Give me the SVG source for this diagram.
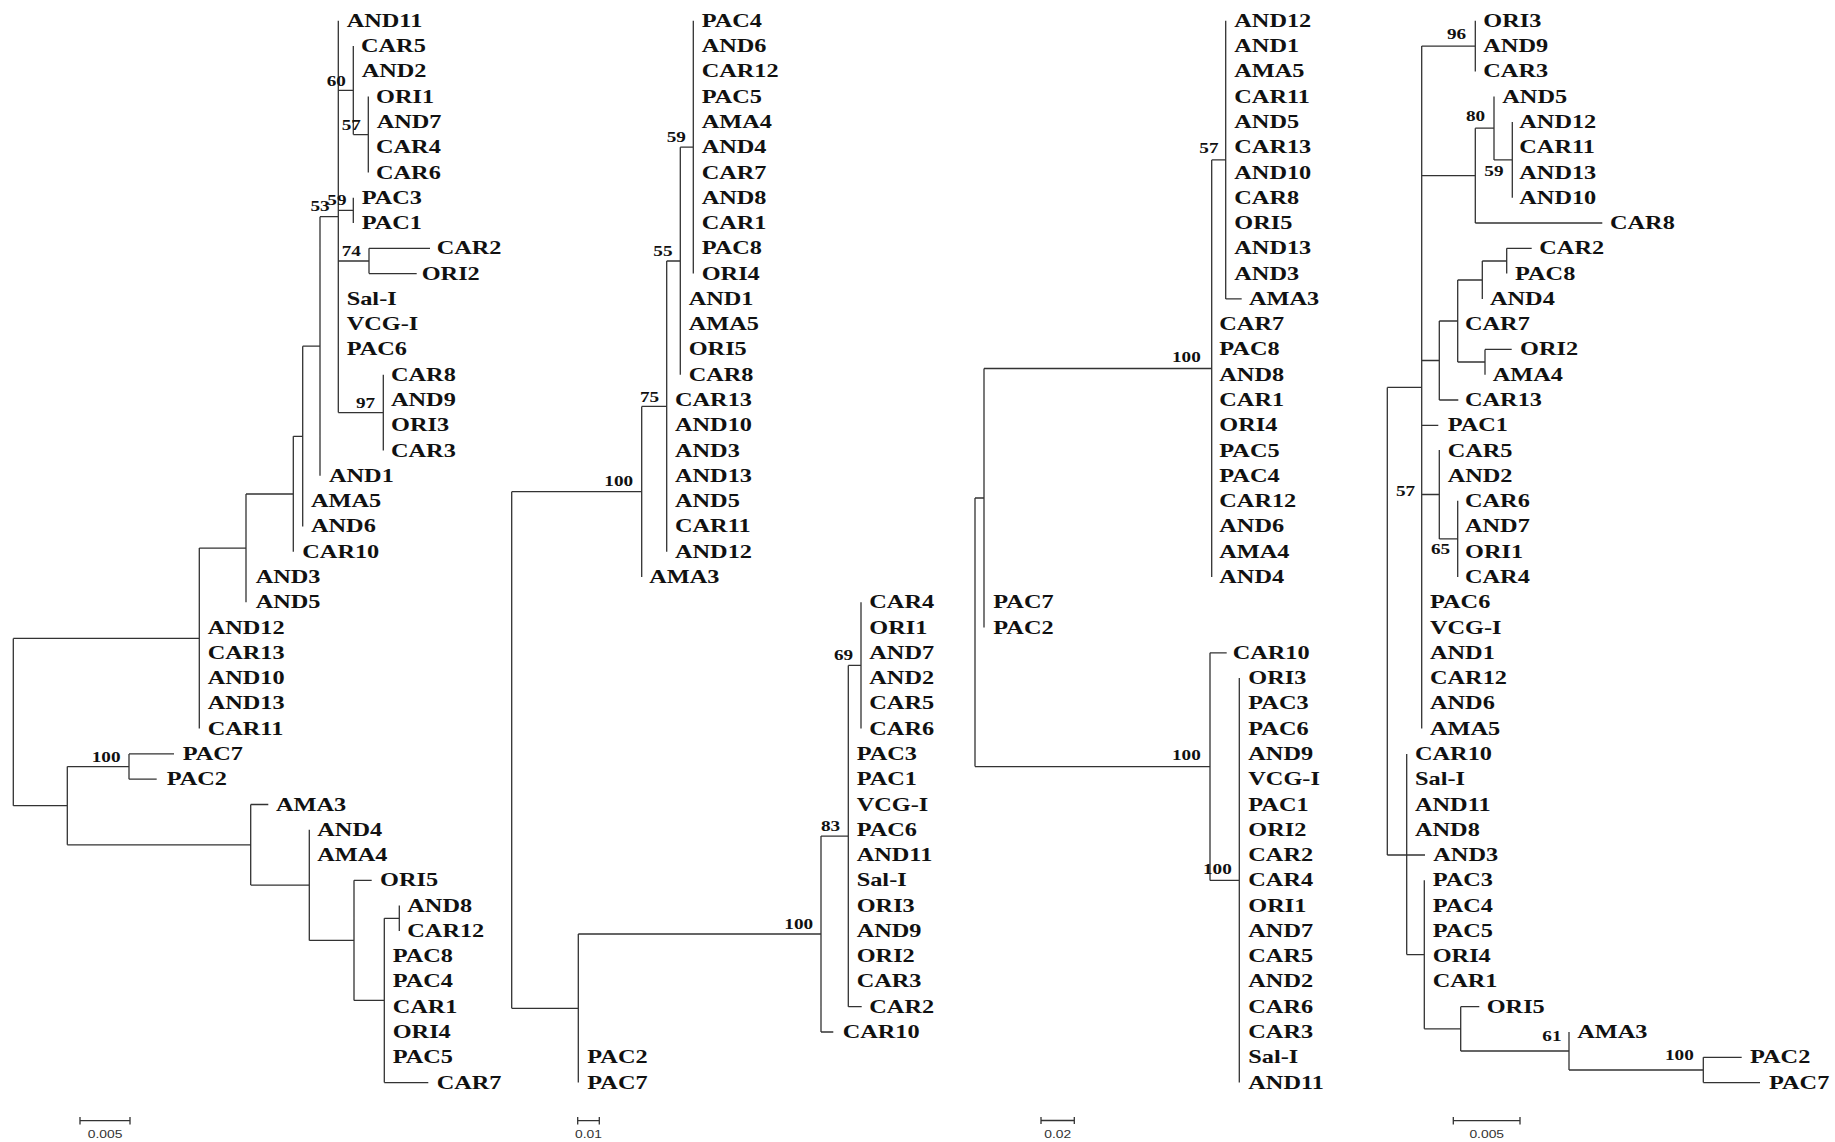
<svg xmlns="http://www.w3.org/2000/svg" width="1835" height="1142" viewBox="0 0 1835 1142">
<style>
.lbl{font-family:"Liberation Serif","Times New Roman",serif;font-weight:bold;font-size:19px;fill:#111}
.bs{font-family:"Liberation Serif","Times New Roman",serif;font-weight:bold;font-size:15px;fill:#111}
.sc{font-family:"Liberation Sans",Arial,sans-serif;font-size:10.5px;fill:#333;text-anchor:middle}
.br{fill:none;stroke:#333;stroke-width:1.3}
</style>
<rect width="1835" height="1142" fill="#fff"/>
<g id="connectors" class="br">
<path id="tree1-branches" d="M13.3 638.4V805.7M13.3 638.4H199.3M13.3 805.7H67.3M199.3 548.1V728.6M199.3 548.1H246M246 494V602.2M246 494H293.3M293.3 436.3V551.7M293.3 436.3H302.7M302.7 346.2V526.4M302.7 346.2H320M320 216.7V475.8M320 216.7H338.3M338.3 20.8V412.6M338.3 90.3H353.3M353.3 46.1V134.6M353.3 134.6H368.3M368.3 96.6V172.5M338.3 210.4H353.3M353.3 197.8V223M338.3 261H369M369 248.3V273.6M369 248.3H430M369 273.6H416.7M338.3 412.6H383.3M383.3 374.7V450.6M67.3 766.6V844.8M67.3 766.6H129M67.3 844.8H250.7M129 753.9V779.2M129 753.9H174M129 779.2H156.7M250.7 804.5V885.1M250.7 804.5H268.3M250.7 885.1H309.3M309.3 829.8V940.4M309.3 940.4H354M354 880.3V1000.4M354 880.3H371.7M354 1000.4H384.3M384.3 918.3V1082.6M384.3 918.3H399.3M384.3 1082.6H428.3M399.3 905.6V930.9"/>
<path id="tree2-branches" d="M511.7 491.7V1008.3M511.7 491.7H641.7M511.7 1008.3H578.3M641.7 406.4V577M641.7 406.4H666.7M666.7 261V551.7M666.7 261H680.3M680.3 147.2V374.7M680.3 147.2H693.3M693.3 20.8V273.6M578.3 934V1082.6M578.3 934H821M821 836.1V1032M821 836.1H848.3M821 1032H833.3M848.3 665.4V1006.7M848.3 665.4H861M848.3 1006.7H861.7M861 602.2V728.6"/>
<path id="tree3-branches" d="M975 498V766.6M975 498H984M975 766.6H1210M984 368.5V627.5M984 368.5H1211.7M1211.7 159.9V577M1211.7 159.9H1225.7M1225.7 20.8V298.9M1225.7 298.9H1241.7M1210 652.8V880.4M1210 652.8H1226.7M1210 880.4H1239.3M1239.3 678.1V1082.6"/>
<path id="tree4-branches" d="M1387.3 387.4V855M1387.3 387.4H1421.7M1387.3 855H1425M1421.7 46.1V728.6M1421.7 46.1H1475.3M1475.3 20.8V71.4M1421.7 175.6H1475.3M1475.3 128.2V223M1475.3 223H1602.3M1475.3 128.2H1494M1494 96.6V159.9M1494 159.9H1512.3M1512.3 121.9V197.8M1421.7 360.5H1439.3M1439.3 321V400M1439.3 400H1458.3M1439.3 321H1457.7M1457.7 280V362M1457.7 280H1482.3M1482.3 261V298.9M1482.3 261H1506.7M1506.7 248.3V273.6M1506.7 248.3H1531.7M1457.7 362H1485M1485 349.4V374.7M1485 349.4H1511.7M1421.7 425.3H1438.3M1421.7 494.5H1439.3M1439.3 450.1V538.9M1439.3 538.9H1457.7M1457.7 500.7V577M1406.7 753.9V954.6M1406.7 954.6H1424.3M1424.3 880.3V1028.8M1424.3 1028.8H1460.7M1460.7 1006.7V1051M1460.7 1006.7H1479.3M1460.7 1051H1569M1569 1032V1070M1569 1070H1703.3M1703.3 1057.3V1082.6M1703.3 1057.3H1741.7M1703.3 1082.6H1760"/>
<path id="scale-bars" d="M80 1120.7H130M80 1117V1124.4M130 1117V1124.4M577.7 1120.7H599.3M577.7 1117V1124.4M599.3 1117V1124.4M1041 1120.5H1074.3M1041 1117V1124M1074.3 1117V1124M1453.3 1120.7H1520M1453.3 1117V1124.4M1520 1117V1124.4"/>
</g>
<g id="tree1">
<g id="t1-AND11"><text class="lbl" transform="translate(346.7 26.8) scale(1.28 1)">AND11</text></g>
<g id="t1-CAR5"><text class="lbl" transform="translate(361 52.1) scale(1.28 1)">CAR5</text></g>
<g id="t1-AND2"><text class="lbl" transform="translate(361.7 77.4) scale(1.28 1)">AND2</text></g>
<g id="t1-ORI1"><text class="lbl" transform="translate(376 102.6) scale(1.28 1)">ORI1</text></g>
<g id="t1-AND7"><text class="lbl" transform="translate(376.7 127.9) scale(1.28 1)">AND7</text></g>
<g id="t1-CAR4"><text class="lbl" transform="translate(376 153.2) scale(1.28 1)">CAR4</text></g>
<g id="t1-CAR6"><text class="lbl" transform="translate(376 178.5) scale(1.28 1)">CAR6</text></g>
<g id="t1-PAC3"><text class="lbl" transform="translate(361.7 203.8) scale(1.28 1)">PAC3</text></g>
<g id="t1-PAC1"><text class="lbl" transform="translate(361.7 229) scale(1.28 1)">PAC1</text></g>
<g id="t1-CAR2"><text class="lbl" transform="translate(436.7 254.3) scale(1.28 1)">CAR2</text></g>
<g id="t1-ORI2"><text class="lbl" transform="translate(421.7 279.6) scale(1.28 1)">ORI2</text></g>
<g id="t1-Sal-I"><text class="lbl" transform="translate(346.7 304.9) scale(1.28 1)">Sal-I</text></g>
<g id="t1-VCG-I"><text class="lbl" transform="translate(346.7 330.2) scale(1.28 1)">VCG-I</text></g>
<g id="t1-PAC6"><text class="lbl" transform="translate(346.7 355.4) scale(1.28 1)">PAC6</text></g>
<g id="t1-CAR8"><text class="lbl" transform="translate(391 380.7) scale(1.28 1)">CAR8</text></g>
<g id="t1-AND9"><text class="lbl" transform="translate(391 406) scale(1.28 1)">AND9</text></g>
<g id="t1-ORI3"><text class="lbl" transform="translate(391 431.3) scale(1.28 1)">ORI3</text></g>
<g id="t1-CAR3"><text class="lbl" transform="translate(391 456.6) scale(1.28 1)">CAR3</text></g>
<g id="t1-AND1"><text class="lbl" transform="translate(329 481.8) scale(1.28 1)">AND1</text></g>
<g id="t1-AMA5"><text class="lbl" transform="translate(311 507.1) scale(1.28 1)">AMA5</text></g>
<g id="t1-AND6"><text class="lbl" transform="translate(311 532.4) scale(1.28 1)">AND6</text></g>
<g id="t1-CAR10"><text class="lbl" transform="translate(302.3 557.7) scale(1.28 1)">CAR10</text></g>
<g id="t1-AND3"><text class="lbl" transform="translate(255.7 583) scale(1.28 1)">AND3</text></g>
<g id="t1-AND5"><text class="lbl" transform="translate(255.7 608.2) scale(1.28 1)">AND5</text></g>
<g id="t1-AND12"><text class="lbl" transform="translate(207.7 633.5) scale(1.28 1)">AND12</text></g>
<g id="t1-CAR13"><text class="lbl" transform="translate(207.7 658.8) scale(1.28 1)">CAR13</text></g>
<g id="t1-AND10"><text class="lbl" transform="translate(207.7 684.1) scale(1.28 1)">AND10</text></g>
<g id="t1-AND13"><text class="lbl" transform="translate(207.7 709.4) scale(1.28 1)">AND13</text></g>
<g id="t1-CAR11"><text class="lbl" transform="translate(207.7 734.6) scale(1.28 1)">CAR11</text></g>
<g id="t1-PAC7"><text class="lbl" transform="translate(182.7 759.9) scale(1.28 1)">PAC7</text></g>
<g id="t1-PAC2"><text class="lbl" transform="translate(166.7 785.2) scale(1.28 1)">PAC2</text></g>
<g id="t1-AMA3"><text class="lbl" transform="translate(276 810.5) scale(1.28 1)">AMA3</text></g>
<g id="t1-AND4"><text class="lbl" transform="translate(317.3 835.8) scale(1.28 1)">AND4</text></g>
<g id="t1-AMA4"><text class="lbl" transform="translate(317.3 861) scale(1.28 1)">AMA4</text></g>
<g id="t1-ORI5"><text class="lbl" transform="translate(380 886.3) scale(1.28 1)">ORI5</text></g>
<g id="t1-AND8"><text class="lbl" transform="translate(407.3 911.6) scale(1.28 1)">AND8</text></g>
<g id="t1-CAR12"><text class="lbl" transform="translate(407.3 936.9) scale(1.28 1)">CAR12</text></g>
<g id="t1-PAC8"><text class="lbl" transform="translate(392.7 962.2) scale(1.28 1)">PAC8</text></g>
<g id="t1-PAC4"><text class="lbl" transform="translate(392.7 987.4) scale(1.28 1)">PAC4</text></g>
<g id="t1-CAR1"><text class="lbl" transform="translate(392.7 1012.7) scale(1.28 1)">CAR1</text></g>
<g id="t1-ORI4"><text class="lbl" transform="translate(392.7 1038) scale(1.28 1)">ORI4</text></g>
<g id="t1-PAC5"><text class="lbl" transform="translate(392.7 1063.3) scale(1.28 1)">PAC5</text></g>
<g id="t1-CAR7"><text class="lbl" transform="translate(436.7 1088.6) scale(1.28 1)">CAR7</text></g>
<g id="t1-support">
<text class="bs" transform="translate(326.7 86) scale(1.28 1)">60</text>
<text class="bs" transform="translate(341.7 130.4) scale(1.28 1)">57</text>
<text class="bs" transform="translate(310.5 211) scale(1.28 1)">53</text>
<text class="bs" transform="translate(327.3 205) scale(1.28 1)">59</text>
<text class="bs" transform="translate(341.7 256.4) scale(1.28 1)">74</text>
<text class="bs" transform="translate(356 408) scale(1.28 1)">97</text>
<text class="bs" transform="translate(91.7 762) scale(1.28 1)">100</text>
</g>
<g id="t1-scale"><text class="sc" transform="translate(105 1138) scale(1.32 1)">0.005</text></g>
</g>
<g id="tree2">
<g id="t2-PAC4"><text class="lbl" transform="translate(701.7 26.8) scale(1.28 1)">PAC4</text></g>
<g id="t2-AND6"><text class="lbl" transform="translate(701.7 52.1) scale(1.28 1)">AND6</text></g>
<g id="t2-CAR12"><text class="lbl" transform="translate(701.7 77.4) scale(1.28 1)">CAR12</text></g>
<g id="t2-PAC5"><text class="lbl" transform="translate(701.7 102.6) scale(1.28 1)">PAC5</text></g>
<g id="t2-AMA4"><text class="lbl" transform="translate(701.7 127.9) scale(1.28 1)">AMA4</text></g>
<g id="t2-AND4"><text class="lbl" transform="translate(701.7 153.2) scale(1.28 1)">AND4</text></g>
<g id="t2-CAR7"><text class="lbl" transform="translate(701.7 178.5) scale(1.28 1)">CAR7</text></g>
<g id="t2-AND8"><text class="lbl" transform="translate(701.7 203.8) scale(1.28 1)">AND8</text></g>
<g id="t2-CAR1"><text class="lbl" transform="translate(701.7 229) scale(1.28 1)">CAR1</text></g>
<g id="t2-PAC8"><text class="lbl" transform="translate(701.7 254.3) scale(1.28 1)">PAC8</text></g>
<g id="t2-ORI4"><text class="lbl" transform="translate(701.7 279.6) scale(1.28 1)">ORI4</text></g>
<g id="t2-AND1"><text class="lbl" transform="translate(688.7 304.9) scale(1.28 1)">AND1</text></g>
<g id="t2-AMA5"><text class="lbl" transform="translate(688.7 330.2) scale(1.28 1)">AMA5</text></g>
<g id="t2-ORI5"><text class="lbl" transform="translate(688.7 355.4) scale(1.28 1)">ORI5</text></g>
<g id="t2-CAR8"><text class="lbl" transform="translate(688.7 380.7) scale(1.28 1)">CAR8</text></g>
<g id="t2-CAR13"><text class="lbl" transform="translate(675 406) scale(1.28 1)">CAR13</text></g>
<g id="t2-AND10"><text class="lbl" transform="translate(675 431.3) scale(1.28 1)">AND10</text></g>
<g id="t2-AND3"><text class="lbl" transform="translate(675 456.6) scale(1.28 1)">AND3</text></g>
<g id="t2-AND13"><text class="lbl" transform="translate(675 481.8) scale(1.28 1)">AND13</text></g>
<g id="t2-AND5"><text class="lbl" transform="translate(675 507.1) scale(1.28 1)">AND5</text></g>
<g id="t2-CAR11"><text class="lbl" transform="translate(675 532.4) scale(1.28 1)">CAR11</text></g>
<g id="t2-AND12"><text class="lbl" transform="translate(675 557.7) scale(1.28 1)">AND12</text></g>
<g id="t2-AMA3"><text class="lbl" transform="translate(649.3 583) scale(1.28 1)">AMA3</text></g>
<g id="t2-CAR4"><text class="lbl" transform="translate(869.3 608.2) scale(1.28 1)">CAR4</text></g>
<g id="t2-ORI1"><text class="lbl" transform="translate(869.3 633.5) scale(1.28 1)">ORI1</text></g>
<g id="t2-AND7"><text class="lbl" transform="translate(869.3 658.8) scale(1.28 1)">AND7</text></g>
<g id="t2-AND2"><text class="lbl" transform="translate(869.3 684.1) scale(1.28 1)">AND2</text></g>
<g id="t2-CAR5"><text class="lbl" transform="translate(869.3 709.4) scale(1.28 1)">CAR5</text></g>
<g id="t2-CAR6"><text class="lbl" transform="translate(869.3 734.6) scale(1.28 1)">CAR6</text></g>
<g id="t2-PAC3"><text class="lbl" transform="translate(856.7 759.9) scale(1.28 1)">PAC3</text></g>
<g id="t2-PAC1"><text class="lbl" transform="translate(856.7 785.2) scale(1.28 1)">PAC1</text></g>
<g id="t2-VCG-I"><text class="lbl" transform="translate(856.7 810.5) scale(1.28 1)">VCG-I</text></g>
<g id="t2-PAC6"><text class="lbl" transform="translate(856.7 835.8) scale(1.28 1)">PAC6</text></g>
<g id="t2-AND11"><text class="lbl" transform="translate(856.7 861) scale(1.28 1)">AND11</text></g>
<g id="t2-Sal-I"><text class="lbl" transform="translate(856.7 886.3) scale(1.28 1)">Sal-I</text></g>
<g id="t2-ORI3"><text class="lbl" transform="translate(856.7 911.6) scale(1.28 1)">ORI3</text></g>
<g id="t2-AND9"><text class="lbl" transform="translate(856.7 936.9) scale(1.28 1)">AND9</text></g>
<g id="t2-ORI2"><text class="lbl" transform="translate(856.7 962.2) scale(1.28 1)">ORI2</text></g>
<g id="t2-CAR3"><text class="lbl" transform="translate(856.7 987.4) scale(1.28 1)">CAR3</text></g>
<g id="t2-CAR2"><text class="lbl" transform="translate(869.3 1012.7) scale(1.28 1)">CAR2</text></g>
<g id="t2-CAR10"><text class="lbl" transform="translate(842.7 1038) scale(1.28 1)">CAR10</text></g>
<g id="t2-PAC2"><text class="lbl" transform="translate(587.3 1063.3) scale(1.28 1)">PAC2</text></g>
<g id="t2-PAC7"><text class="lbl" transform="translate(587.3 1088.6) scale(1.28 1)">PAC7</text></g>
<g id="t2-support">
<text class="bs" transform="translate(666.7 142) scale(1.28 1)">59</text>
<text class="bs" transform="translate(653.3 256) scale(1.28 1)">55</text>
<text class="bs" transform="translate(640 401.8) scale(1.28 1)">75</text>
<text class="bs" transform="translate(604.3 486) scale(1.28 1)">100</text>
<text class="bs" transform="translate(834 660.2) scale(1.28 1)">69</text>
<text class="bs" transform="translate(821 831) scale(1.28 1)">83</text>
<text class="bs" transform="translate(784.3 928.5) scale(1.28 1)">100</text>
</g>
<g id="t2-scale"><text class="sc" transform="translate(588.5 1138) scale(1.32 1)">0.01</text></g>
</g>
<g id="tree3">
<g id="t3-AND12"><text class="lbl" transform="translate(1234.3 26.8) scale(1.28 1)">AND12</text></g>
<g id="t3-AND1"><text class="lbl" transform="translate(1234.3 52.1) scale(1.28 1)">AND1</text></g>
<g id="t3-AMA5"><text class="lbl" transform="translate(1234.3 77.4) scale(1.28 1)">AMA5</text></g>
<g id="t3-CAR11"><text class="lbl" transform="translate(1234.3 102.6) scale(1.28 1)">CAR11</text></g>
<g id="t3-AND5"><text class="lbl" transform="translate(1234.3 127.9) scale(1.28 1)">AND5</text></g>
<g id="t3-CAR13"><text class="lbl" transform="translate(1234.3 153.2) scale(1.28 1)">CAR13</text></g>
<g id="t3-AND10"><text class="lbl" transform="translate(1234.3 178.5) scale(1.28 1)">AND10</text></g>
<g id="t3-CAR8"><text class="lbl" transform="translate(1234.3 203.8) scale(1.28 1)">CAR8</text></g>
<g id="t3-ORI5"><text class="lbl" transform="translate(1234.3 229) scale(1.28 1)">ORI5</text></g>
<g id="t3-AND13"><text class="lbl" transform="translate(1234.3 254.3) scale(1.28 1)">AND13</text></g>
<g id="t3-AND3"><text class="lbl" transform="translate(1234.3 279.6) scale(1.28 1)">AND3</text></g>
<g id="t3-AMA3"><text class="lbl" transform="translate(1249 304.9) scale(1.28 1)">AMA3</text></g>
<g id="t3-CAR7"><text class="lbl" transform="translate(1219.3 330.2) scale(1.28 1)">CAR7</text></g>
<g id="t3-PAC8"><text class="lbl" transform="translate(1219.3 355.4) scale(1.28 1)">PAC8</text></g>
<g id="t3-AND8"><text class="lbl" transform="translate(1219.3 380.7) scale(1.28 1)">AND8</text></g>
<g id="t3-CAR1"><text class="lbl" transform="translate(1219.3 406) scale(1.28 1)">CAR1</text></g>
<g id="t3-ORI4"><text class="lbl" transform="translate(1219.3 431.3) scale(1.28 1)">ORI4</text></g>
<g id="t3-PAC5"><text class="lbl" transform="translate(1219.3 456.6) scale(1.28 1)">PAC5</text></g>
<g id="t3-PAC4"><text class="lbl" transform="translate(1219.3 481.8) scale(1.28 1)">PAC4</text></g>
<g id="t3-CAR12"><text class="lbl" transform="translate(1219.3 507.1) scale(1.28 1)">CAR12</text></g>
<g id="t3-AND6"><text class="lbl" transform="translate(1219.3 532.4) scale(1.28 1)">AND6</text></g>
<g id="t3-AMA4"><text class="lbl" transform="translate(1219.3 557.7) scale(1.28 1)">AMA4</text></g>
<g id="t3-AND4"><text class="lbl" transform="translate(1219.3 583) scale(1.28 1)">AND4</text></g>
<g id="t3-PAC7"><text class="lbl" transform="translate(993.3 608.2) scale(1.28 1)">PAC7</text></g>
<g id="t3-PAC2"><text class="lbl" transform="translate(993.3 633.5) scale(1.28 1)">PAC2</text></g>
<g id="t3-CAR10"><text class="lbl" transform="translate(1232.7 658.8) scale(1.28 1)">CAR10</text></g>
<g id="t3-ORI3"><text class="lbl" transform="translate(1248.3 684.1) scale(1.28 1)">ORI3</text></g>
<g id="t3-PAC3"><text class="lbl" transform="translate(1248.3 709.4) scale(1.28 1)">PAC3</text></g>
<g id="t3-PAC6"><text class="lbl" transform="translate(1248.3 734.6) scale(1.28 1)">PAC6</text></g>
<g id="t3-AND9"><text class="lbl" transform="translate(1248.3 759.9) scale(1.28 1)">AND9</text></g>
<g id="t3-VCG-I"><text class="lbl" transform="translate(1248.3 785.2) scale(1.28 1)">VCG-I</text></g>
<g id="t3-PAC1"><text class="lbl" transform="translate(1248.3 810.5) scale(1.28 1)">PAC1</text></g>
<g id="t3-ORI2"><text class="lbl" transform="translate(1248.3 835.8) scale(1.28 1)">ORI2</text></g>
<g id="t3-CAR2"><text class="lbl" transform="translate(1248.3 861) scale(1.28 1)">CAR2</text></g>
<g id="t3-CAR4"><text class="lbl" transform="translate(1248.3 886.3) scale(1.28 1)">CAR4</text></g>
<g id="t3-ORI1"><text class="lbl" transform="translate(1248.3 911.6) scale(1.28 1)">ORI1</text></g>
<g id="t3-AND7"><text class="lbl" transform="translate(1248.3 936.9) scale(1.28 1)">AND7</text></g>
<g id="t3-CAR5"><text class="lbl" transform="translate(1248.3 962.2) scale(1.28 1)">CAR5</text></g>
<g id="t3-AND2"><text class="lbl" transform="translate(1248.3 987.4) scale(1.28 1)">AND2</text></g>
<g id="t3-CAR6"><text class="lbl" transform="translate(1248.3 1012.7) scale(1.28 1)">CAR6</text></g>
<g id="t3-CAR3"><text class="lbl" transform="translate(1248.3 1038) scale(1.28 1)">CAR3</text></g>
<g id="t3-Sal-I"><text class="lbl" transform="translate(1248.3 1063.3) scale(1.28 1)">Sal-I</text></g>
<g id="t3-AND11"><text class="lbl" transform="translate(1248.3 1088.6) scale(1.28 1)">AND11</text></g>
<g id="t3-support">
<text class="bs" transform="translate(1199.3 153) scale(1.28 1)">57</text>
<text class="bs" transform="translate(1172 361.6) scale(1.28 1)">100</text>
<text class="bs" transform="translate(1172 760.4) scale(1.28 1)">100</text>
<text class="bs" transform="translate(1203 873.7) scale(1.28 1)">100</text>
</g>
<g id="t3-scale"><text class="sc" transform="translate(1057.8 1138) scale(1.32 1)">0.02</text></g>
</g>
<g id="tree4">
<g id="t4-ORI3"><text class="lbl" transform="translate(1483.3 26.8) scale(1.28 1)">ORI3</text></g>
<g id="t4-AND9"><text class="lbl" transform="translate(1483.3 52.1) scale(1.28 1)">AND9</text></g>
<g id="t4-CAR3"><text class="lbl" transform="translate(1483.3 77.4) scale(1.28 1)">CAR3</text></g>
<g id="t4-AND5"><text class="lbl" transform="translate(1502.3 102.6) scale(1.28 1)">AND5</text></g>
<g id="t4-AND12"><text class="lbl" transform="translate(1519.3 127.9) scale(1.28 1)">AND12</text></g>
<g id="t4-CAR11"><text class="lbl" transform="translate(1519.3 153.2) scale(1.28 1)">CAR11</text></g>
<g id="t4-AND13"><text class="lbl" transform="translate(1519.3 178.5) scale(1.28 1)">AND13</text></g>
<g id="t4-AND10"><text class="lbl" transform="translate(1519.3 203.8) scale(1.28 1)">AND10</text></g>
<g id="t4-CAR8"><text class="lbl" transform="translate(1610 229) scale(1.28 1)">CAR8</text></g>
<g id="t4-CAR2"><text class="lbl" transform="translate(1539.3 254.3) scale(1.28 1)">CAR2</text></g>
<g id="t4-PAC8"><text class="lbl" transform="translate(1515 279.6) scale(1.28 1)">PAC8</text></g>
<g id="t4-AND4"><text class="lbl" transform="translate(1490 304.9) scale(1.28 1)">AND4</text></g>
<g id="t4-CAR7"><text class="lbl" transform="translate(1465 330.2) scale(1.28 1)">CAR7</text></g>
<g id="t4-ORI2"><text class="lbl" transform="translate(1520 355.4) scale(1.28 1)">ORI2</text></g>
<g id="t4-AMA4"><text class="lbl" transform="translate(1492.7 380.7) scale(1.28 1)">AMA4</text></g>
<g id="t4-CAR13"><text class="lbl" transform="translate(1465 406) scale(1.28 1)">CAR13</text></g>
<g id="t4-PAC1"><text class="lbl" transform="translate(1447.7 431.3) scale(1.28 1)">PAC1</text></g>
<g id="t4-CAR5"><text class="lbl" transform="translate(1447.7 456.6) scale(1.28 1)">CAR5</text></g>
<g id="t4-AND2"><text class="lbl" transform="translate(1447.7 481.8) scale(1.28 1)">AND2</text></g>
<g id="t4-CAR6"><text class="lbl" transform="translate(1465 507.1) scale(1.28 1)">CAR6</text></g>
<g id="t4-AND7"><text class="lbl" transform="translate(1465 532.4) scale(1.28 1)">AND7</text></g>
<g id="t4-ORI1"><text class="lbl" transform="translate(1465 557.7) scale(1.28 1)">ORI1</text></g>
<g id="t4-CAR4"><text class="lbl" transform="translate(1465 583) scale(1.28 1)">CAR4</text></g>
<g id="t4-PAC6"><text class="lbl" transform="translate(1430 608.2) scale(1.28 1)">PAC6</text></g>
<g id="t4-VCG-I"><text class="lbl" transform="translate(1430 633.5) scale(1.28 1)">VCG-I</text></g>
<g id="t4-AND1"><text class="lbl" transform="translate(1430 658.8) scale(1.28 1)">AND1</text></g>
<g id="t4-CAR12"><text class="lbl" transform="translate(1430 684.1) scale(1.28 1)">CAR12</text></g>
<g id="t4-AND6"><text class="lbl" transform="translate(1430 709.4) scale(1.28 1)">AND6</text></g>
<g id="t4-AMA5"><text class="lbl" transform="translate(1430 734.6) scale(1.28 1)">AMA5</text></g>
<g id="t4-CAR10"><text class="lbl" transform="translate(1415 759.9) scale(1.28 1)">CAR10</text></g>
<g id="t4-Sal-I"><text class="lbl" transform="translate(1415 785.2) scale(1.28 1)">Sal-I</text></g>
<g id="t4-AND11"><text class="lbl" transform="translate(1415 810.5) scale(1.28 1)">AND11</text></g>
<g id="t4-AND8"><text class="lbl" transform="translate(1415 835.8) scale(1.28 1)">AND8</text></g>
<g id="t4-AND3"><text class="lbl" transform="translate(1433.3 861) scale(1.28 1)">AND3</text></g>
<g id="t4-PAC3"><text class="lbl" transform="translate(1432.7 886.3) scale(1.28 1)">PAC3</text></g>
<g id="t4-PAC4"><text class="lbl" transform="translate(1432.7 911.6) scale(1.28 1)">PAC4</text></g>
<g id="t4-PAC5"><text class="lbl" transform="translate(1432.7 936.9) scale(1.28 1)">PAC5</text></g>
<g id="t4-ORI4"><text class="lbl" transform="translate(1432.7 962.2) scale(1.28 1)">ORI4</text></g>
<g id="t4-CAR1"><text class="lbl" transform="translate(1432.7 987.4) scale(1.28 1)">CAR1</text></g>
<g id="t4-ORI5"><text class="lbl" transform="translate(1486.7 1012.7) scale(1.28 1)">ORI5</text></g>
<g id="t4-AMA3"><text class="lbl" transform="translate(1577.3 1038) scale(1.28 1)">AMA3</text></g>
<g id="t4-PAC2"><text class="lbl" transform="translate(1750 1063.3) scale(1.28 1)">PAC2</text></g>
<g id="t4-PAC7"><text class="lbl" transform="translate(1769 1088.6) scale(1.28 1)">PAC7</text></g>
<g id="t4-support">
<text class="bs" transform="translate(1447 38.6) scale(1.28 1)">96</text>
<text class="bs" transform="translate(1466 121.4) scale(1.28 1)">80</text>
<text class="bs" transform="translate(1484.3 176) scale(1.28 1)">59</text>
<text class="bs" transform="translate(1396 496.4) scale(1.28 1)">57</text>
<text class="bs" transform="translate(1431 553.6) scale(1.28 1)">65</text>
<text class="bs" transform="translate(1542.3 1041) scale(1.28 1)">61</text>
<text class="bs" transform="translate(1665 1060.2) scale(1.28 1)">100</text>
</g>
<g id="t4-scale"><text class="sc" transform="translate(1486.7 1138) scale(1.32 1)">0.005</text></g>
</g>
</svg>
